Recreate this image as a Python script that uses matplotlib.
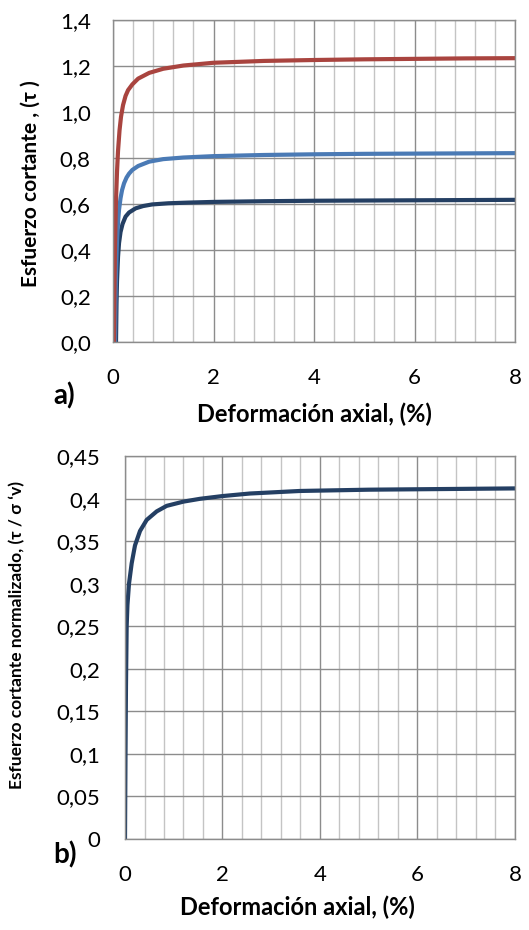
import numpy as np
import matplotlib
matplotlib.use("Agg")
import matplotlib.pyplot as plt
from matplotlib.ticker import MultipleLocator, FuncFormatter

plt.rcParams['font.family'] = ['Lato', 'DejaVu Sans']

# (a) shear stress vs axial strain, three confining pressures
x_red = [0.02, 0.03, 0.04, 0.06, 0.08, 0.10, 0.13, 0.16, 0.20, 0.25, 0.30, 0.385,
         0.50, 0.72, 1.0, 1.4, 2.0, 3.0, 4.0, 5.0, 6.0, 7.0, 8.0]
y_red = [0.0, 0.25, 0.42, 0.62, 0.74, 0.83, 0.92, 0.98, 1.03, 1.07, 1.095, 1.12,
         1.145, 1.17, 1.188, 1.202, 1.214, 1.222, 1.226, 1.229, 1.231, 1.233, 1.234]

x_lblue = [0.04, 0.05, 0.06, 0.08, 0.10, 0.12, 0.15, 0.18, 0.22, 0.27, 0.32, 0.385,
           0.50, 0.72, 1.0, 1.4, 2.0, 3.0, 4.0, 5.0, 6.0, 7.0, 8.0]
y_lblue = [0.0, 0.18, 0.30, 0.44, 0.52, 0.575, 0.625, 0.66, 0.69, 0.715, 0.732, 0.748,
           0.765, 0.784, 0.795, 0.802, 0.808, 0.813, 0.816, 0.818, 0.819, 0.820, 0.821]

x_dblue = [0.06, 0.07, 0.08, 0.10, 0.12, 0.15, 0.19, 0.25, 0.32, 0.45, 0.60, 0.78,
           1.1, 1.5, 2.0, 3.0, 4.0, 5.0, 6.0, 7.0, 8.0]
y_dblue = [0.0, 0.17, 0.265, 0.37, 0.43, 0.478, 0.513, 0.545, 0.563, 0.581, 0.591, 0.598,
           0.603, 0.606, 0.609, 0.612, 0.614, 0.615, 0.616, 0.617, 0.618]

# (b) normalized shear stress
x_norm = [0.0, 0.01, 0.02, 0.034, 0.05, 0.082, 0.137, 0.205, 0.308, 0.445, 0.65, 0.855,
          1.2, 1.54, 2.0, 2.56, 3.59, 5.0, 6.0, 7.0, 8.0]
y_norm = [0.0, 0.10, 0.18, 0.25, 0.275, 0.30, 0.324, 0.345, 0.362, 0.375, 0.385, 0.3915,
          0.3965, 0.3998, 0.403, 0.406, 0.409, 0.4105, 0.411, 0.4115, 0.412]

red = '#A9443F'
lblue = '#4A7AB5'
dblue = '#243F63'
major_c = '#8c8c8c'
minor_c = '#c4c4c4'

fig = plt.figure(figsize=(5.29, 9.30), dpi=100)


def style_axes(ax, ymax, ystep, fmt, ypad, xpad):
    ax.set_xlim(0, 8)
    ax.set_ylim(0, ymax)
    ax.xaxis.set_major_locator(MultipleLocator(2))
    ax.xaxis.set_minor_locator(MultipleLocator(0.4))
    ax.yaxis.set_major_locator(MultipleLocator(ystep))
    ax.yaxis.set_major_formatter(FuncFormatter(fmt))
    ax.grid(which='major', color=major_c, lw=1.0)
    ax.grid(which='minor', axis='x', color=minor_c, lw=1.0)
    ax.set_axisbelow(True)
    for s in ax.spines.values():
        s.set_color(major_c)
        s.set_linewidth(1.0)
    ax.tick_params(which='both', length=0, labelsize=16, colors='black')
    ax.tick_params(axis='y', pad=ypad)
    ax.tick_params(axis='x', pad=xpad)


ax1 = fig.add_axes([0.2136, 0.6323, 0.7600, 0.3462])
style_axes(ax1, 1.4, 0.2, lambda v, p: ('%.1f' % v).replace('.', ','), 16, 19)
ax1.plot(x_dblue, y_dblue, color=dblue, lw=3.0, solid_capstyle='butt')
ax1.plot(x_lblue, y_lblue, color=lblue, lw=3.0, solid_capstyle='butt')
ax1.plot(x_red, y_red, color=red, lw=3.0, solid_capstyle='butt')
fig.text(0.5936, 0.5548, 'Deformación axial, (%)', fontsize=17, fontweight='bold',
         ha='center', va='center')
fig.text(0.0586, 0.8022, 'Esfuerzo cortante , (τ )', fontsize=15, fontweight='bold',
         ha='center', va='center', rotation=90)
fig.text(0.121, 0.5742, 'a)', fontsize=20, fontweight='bold', ha='center', va='center')

ax2 = fig.add_axes([0.2363, 0.0978, 0.7372, 0.4118])
style_axes(ax2, 0.45, 0.05,
           lambda v, p: ('%g' % round(v, 2)).replace('.', ','), 18, 19)
ax2.plot(x_norm, y_norm, color=dblue, lw=3.0, solid_capstyle='butt')
fig.text(0.5614, 0.0247, 'Deformación axial, (%)', fontsize=17, fontweight='bold',
         ha='center', va='center')
fig.text(0.0321, 0.3172, 'Esfuerzo cortante normalizado, (τ / σ ‘v)', fontsize=12.5,
         fontweight='bold', ha='center', va='center', rotation=90)
fig.text(0.1229, 0.0806, 'b)', fontsize=20, fontweight='bold', ha='center', va='center')

fig.savefig('out.png', dpi=100)
